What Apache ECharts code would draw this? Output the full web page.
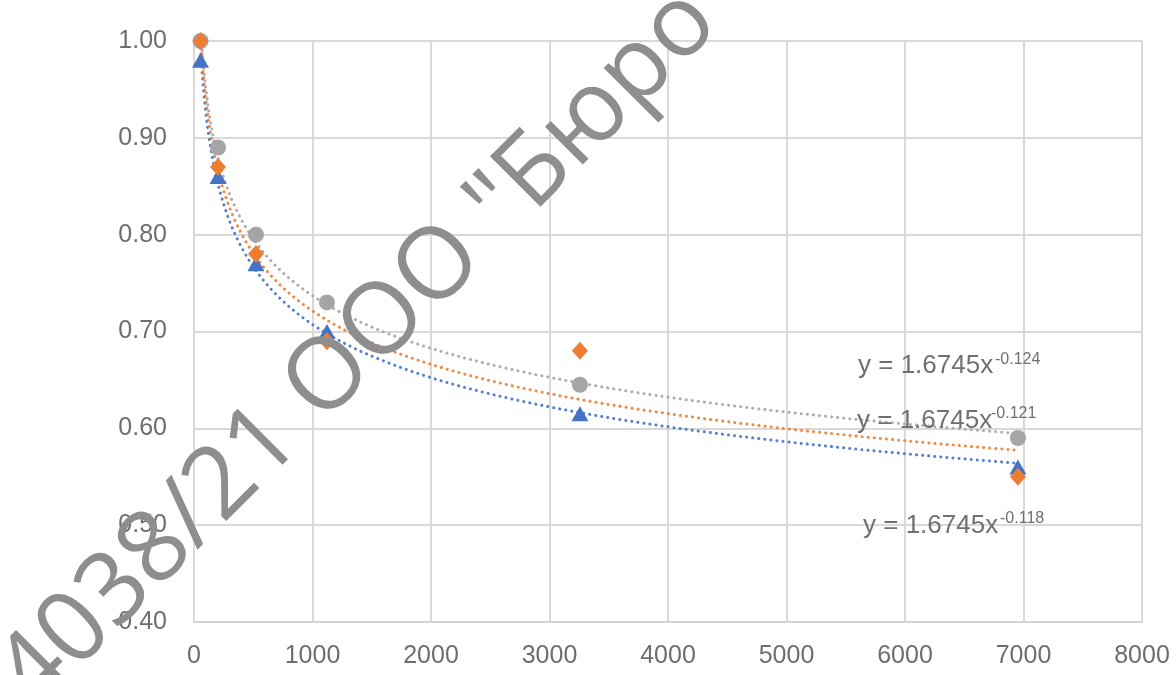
<!DOCTYPE html>
<html><head><meta charset="utf-8">
<script src="https://cdn.jsdelivr.net/npm/echarts@6/dist/echarts.min.js"></script>
<style>html,body{margin:0;padding:0;background:#fff}#c{width:1176px;height:675px}</style>
</head><body><div id="c"></div>
<script>
// ---- data ----
const xValues = [55, 203, 523, 1122, 3257, 6953];
const blueValues = [0.98, 0.86, 0.77, 0.70, 0.615, 0.56];
const orangeValues = [1.00, 0.87, 0.78, 0.69, 0.68, 0.55];
const grayValues = [1.00, 0.89, 0.80, 0.73, 0.645, 0.59];
const equationMain = ['y = 1.6745x', 'y = 1.6745x', 'y = 1.6745x'];
const equationExp = ['-0.124', '-0.121', '-0.118'];
const watermarkText = '4038/21 ООО "Бюро"';

const COLORS = { blue: '#4472C4', orange: '#ED7D31', gray: '#A5A5A5' };

function pairs(xs, ys) { return xs.map((x, i) => [x, ys[i]]); }

// Least-squares power trendline (y = a*x^b) fitted from the data, as the spreadsheet does
function powerTrend(xs, ys) {
  const n = xs.length;
  let sx = 0, sy = 0, sxx = 0, sxy = 0;
  for (let i = 0; i < n; i++) {
    const lx = Math.log(xs[i]), ly = Math.log(ys[i]);
    sx += lx; sy += ly; sxx += lx * lx; sxy += lx * ly;
  }
  const b = (n * sxy - sx * sy) / (n * sxx - sx * sx);
  const a = Math.exp((sy - b * sx) / n);
  const x0 = Math.min(...xs), x1 = Math.max(...xs);
  const pts = [];
  const N = 160;
  for (let k = 0; k <= N; k++) {
    const x = Math.exp(Math.log(x0) + (Math.log(x1) - Math.log(x0)) * k / N);
    pts.push([x, a * Math.pow(x, b)]);
  }
  return pts;
}

function trendSeries(xs, ys, color) {
  return {
    type: 'line', data: powerTrend(xs, ys), showSymbol: false, symbol: 'none',
    smooth: false, silent: true, z: 3,
    lineStyle: { color: color, width: 3, type: [0.1, 6], cap: 'round', opacity: 0.9 }
  };
}

const axisLabelStyle = { color: '#6e6e6e', fontSize: 25, fontFamily: 'Liberation Sans' };
const gridLine = { show: true, lineStyle: { color: '#d9d9d9', width: 2 } };

const chart = echarts.init(document.getElementById('c'), null, { renderer: 'canvas' });

const labelFont = '26px "Liberation Sans"';
const expFont = '16px "Liberation Sans"';
const labelPos = [[858, 366], [857, 421], [863, 526]];
const expPos = [[995, 360], [991, 414], [1000, 519]];

const graphics = [];
for (let i = 0; i < equationMain.length; i++) {
  graphics.push({
    type: 'text', x: labelPos[i][0], y: labelPos[i][1], z: 50,
    style: { text: equationMain[i], font: labelFont, fill: '#707070', align: 'left', verticalAlign: 'middle' }
  });
  graphics.push({
    type: 'text', x: expPos[i][0], y: expPos[i][1], z: 50,
    style: { text: equationExp[i], font: expFont, fill: '#707070', align: 'left', verticalAlign: 'middle' }
  });
}
graphics.push({
  type: 'text', x: 15, y: 692, rotation: Math.PI / 4, z: 100,
  style: { text: watermarkText, font: '400 100px "Open Sans"', fill: '#8e8e8e', align: 'left', verticalAlign: 'middle' }
});

const markerStyle = c => ({ color: c, opacity: 1 });

chart.setOption({
  animation: false,
  backgroundColor: '#ffffff',
  grid: { left: 194, right: 34, top: 41, bottom: 53, containLabel: false },
  xAxis: {
    type: 'value', min: 0, max: 8000, interval: 1000,
    axisLine: { show: true, lineStyle: { color: '#d4d4d4', width: 2 } },
    axisTick: { show: false },
    splitLine: gridLine,
    axisLabel: Object.assign({ margin: 22, formatter: v => String(v) }, axisLabelStyle)
  },
  yAxis: {
    type: 'value', min: 0.4, max: 1.0, interval: 0.1,
    axisLine: { show: false },
    axisTick: { show: false },
    splitLine: gridLine,
    axisLabel: Object.assign({ margin: 27, formatter: v => v.toFixed(2) }, axisLabelStyle)
  },
  series: [
    trendSeries(xValues, blueValues, COLORS.blue),
    trendSeries(xValues, orangeValues, COLORS.orange),
    trendSeries(xValues, grayValues, COLORS.gray),
    { type: 'scatter', name: 'blue', data: pairs(xValues, blueValues), symbol: 'triangle', symbolSize: [17, 15],
      itemStyle: markerStyle(COLORS.blue), z: 4 },
    { type: 'scatter', name: 'gray', data: pairs(xValues, grayValues), symbol: 'circle', symbolSize: 16,
      itemStyle: markerStyle(COLORS.gray), z: 5 },
    { type: 'scatter', name: 'orange', data: pairs(xValues, orangeValues), symbol: 'diamond', symbolSize: [16, 18],
      itemStyle: markerStyle(COLORS.orange), z: 6 }
  ],
  graphic: graphics
});
</script></body></html>
